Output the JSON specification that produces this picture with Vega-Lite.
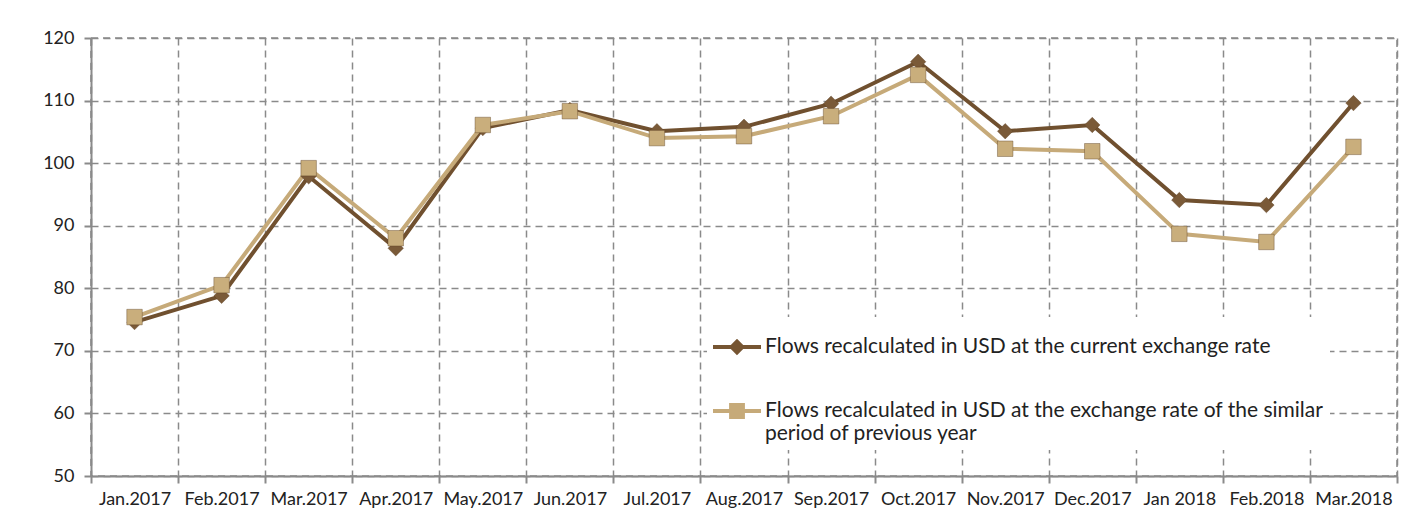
{
  "$schema": "https://vega.github.io/schema/vega-lite/v6.json",
  "width": 1306,
  "height": 438,
  "autosize": {"type": "none"},
  "padding": {"left": 91, "top": 38, "right": 17, "bottom": 39},
  "background": "white",
  "config": {
    "font": "Lato",
    "view": {"stroke": "#8a8a8a", "strokeDash": [7, 5], "strokeWidth": 1.5},
    "axis": {
      "domainColor": "#8a8a8a", "domainWidth": 2,
      "tickColor": "#8a8a8a", "tickWidth": 2,
      "gridColor": "#8a8a8a", "gridDash": [7, 5], "gridWidth": 1.5, "gridOpacity": 1,
      "labelColor": "#222222", "labelFont": "Lato", "title": null
    }
  },
  "data": {
    "values": [
      {"m": "Jan.2017", "s": "Flows recalculated in USD at the current exchange rate", "v": 74.6},
      {"m": "Feb.2017", "s": "Flows recalculated in USD at the current exchange rate", "v": 78.8},
      {"m": "Mar.2017", "s": "Flows recalculated in USD at the current exchange rate", "v": 97.9},
      {"m": "Apr.2017", "s": "Flows recalculated in USD at the current exchange rate", "v": 86.4},
      {"m": "May.2017", "s": "Flows recalculated in USD at the current exchange rate", "v": 105.6},
      {"m": "Jun.2017", "s": "Flows recalculated in USD at the current exchange rate", "v": 108.5},
      {"m": "Jul.2017", "s": "Flows recalculated in USD at the current exchange rate", "v": 105.1},
      {"m": "Aug.2017", "s": "Flows recalculated in USD at the current exchange rate", "v": 105.8},
      {"m": "Sep.2017", "s": "Flows recalculated in USD at the current exchange rate", "v": 109.5},
      {"m": "Oct.2017", "s": "Flows recalculated in USD at the current exchange rate", "v": 116.2},
      {"m": "Nov.2017", "s": "Flows recalculated in USD at the current exchange rate", "v": 105.1},
      {"m": "Dec.2017", "s": "Flows recalculated in USD at the current exchange rate", "v": 106.1},
      {"m": "Jan 2018", "s": "Flows recalculated in USD at the current exchange rate", "v": 94.1},
      {"m": "Feb.2018", "s": "Flows recalculated in USD at the current exchange rate", "v": 93.3},
      {"m": "Mar.2018", "s": "Flows recalculated in USD at the current exchange rate", "v": 109.6},
      {"m": "Jan.2017", "s": "Flows recalculated in USD at the exchange rate of the similar period of previous year", "v": 75.4},
      {"m": "Feb.2017", "s": "Flows recalculated in USD at the exchange rate of the similar period of previous year", "v": 80.5},
      {"m": "Mar.2017", "s": "Flows recalculated in USD at the exchange rate of the similar period of previous year", "v": 99.2},
      {"m": "Apr.2017", "s": "Flows recalculated in USD at the exchange rate of the similar period of previous year", "v": 88.0},
      {"m": "May.2017", "s": "Flows recalculated in USD at the exchange rate of the similar period of previous year", "v": 106.1},
      {"m": "Jun.2017", "s": "Flows recalculated in USD at the exchange rate of the similar period of previous year", "v": 108.3},
      {"m": "Jul.2017", "s": "Flows recalculated in USD at the exchange rate of the similar period of previous year", "v": 104.0},
      {"m": "Aug.2017", "s": "Flows recalculated in USD at the exchange rate of the similar period of previous year", "v": 104.3},
      {"m": "Sep.2017", "s": "Flows recalculated in USD at the exchange rate of the similar period of previous year", "v": 107.5},
      {"m": "Oct.2017", "s": "Flows recalculated in USD at the exchange rate of the similar period of previous year", "v": 114.1},
      {"m": "Nov.2017", "s": "Flows recalculated in USD at the exchange rate of the similar period of previous year", "v": 102.3},
      {"m": "Dec.2017", "s": "Flows recalculated in USD at the exchange rate of the similar period of previous year", "v": 101.9},
      {"m": "Jan 2018", "s": "Flows recalculated in USD at the exchange rate of the similar period of previous year", "v": 88.7},
      {"m": "Feb.2018", "s": "Flows recalculated in USD at the exchange rate of the similar period of previous year", "v": 87.4},
      {"m": "Mar.2018", "s": "Flows recalculated in USD at the exchange rate of the similar period of previous year", "v": 102.6}
    ]
  },
  "encoding": {
    "x": {
      "field": "m", "type": "nominal", "sort": null,
      "scale": {"type": "band", "paddingInner": 0, "paddingOuter": 0},
      "axis": {"labelAngle": 0, "labelFontSize": 18, "labelPadding": 7, "tickBand": "extent", "tickSize": 7, "grid": true}
    },
    "y": {
      "field": "v", "type": "quantitative",
      "scale": {"domain": [50, 120], "zero": false, "nice": false},
      "axis": {"values": [50, 60, 70, 80, 90, 100, 110, 120], "labelFontSize": 18, "labelPadding": 10, "tickSize": 7, "grid": true}
    }
  },
  "resolve": {"scale": {"shape": "independent", "color": "independent"}},
  "layer": [
    {
      "mark": {"type": "line", "strokeWidth": 4},
      "encoding": {
        "stroke": {
          "field": "s", "type": "nominal",
          "scale": {"range": ["#70502f", "#c6aa79"]},
          "legend": null
        }
      }
    },
    {
      "mark": {"type": "point", "filled": true, "opacity": 1, "strokeWidth": 1},
      "encoding": {
        "fill": {
          "field": "s", "type": "nominal",
          "scale": {"range": ["#7a5a38", "#c9ae7c"]},
          "legend": null
        },
        "shape": {
          "field": "s", "type": "nominal",
          "scale": {"range": ["diamond", "square"]},
          "legend": null
        },
        "size": {"value": 240},
        "stroke": {"value": "#5a3f24"},
        "strokeOpacity": {"value": 0.4}
      }
    },
    {
      "transform": [{"filter": "false"}],
      "mark": {"type": "point", "filled": true, "opacity": 1},
      "encoding": {
        "color": {
          "field": "s", "type": "nominal",
          "scale": {
            "domain": ["Flows recalculated in USD at the current exchange rate", "Flows recalculated in USD at the exchange rate of the similar period of previous year"],
            "range": ["#765532", "#c6aa79"]
          },
          "legend": {
            "orient": "none", "legendX": 616, "legendY": 279, "title": null,
            "padding": 6, "fillColor": "white",
            "labelFontSize": 21, "labelColor": "#222222", "labelLimit": 0,
            "rowPadding": 30, "labelOffset": 4,
            "labelBaseline": "middle",
            "symbolSize": 2304, "symbolStrokeWidth": 0,
            "labelExpr": "datum.label == 'Flows recalculated in USD at the exchange rate of the similar period of previous year' ? ['Flows recalculated in USD at the exchange rate of the similar', 'period of previous year'] : datum.label"
          }
        },
        "shape": {
          "field": "s", "type": "nominal",
          "scale": {
            "domain": ["Flows recalculated in USD at the current exchange rate", "Flows recalculated in USD at the exchange rate of the similar period of previous year"],
            "range": ["M-1,-0.085H1V0.085H-1Z M-0.34,0L0,-0.34L0.34,0L0,0.34Z", "M-1,-0.085H1V0.085H-1Z M-0.33,-0.33H0.33V0.33H-0.33Z"]
          }
        }
      }
    }
  ]
}
